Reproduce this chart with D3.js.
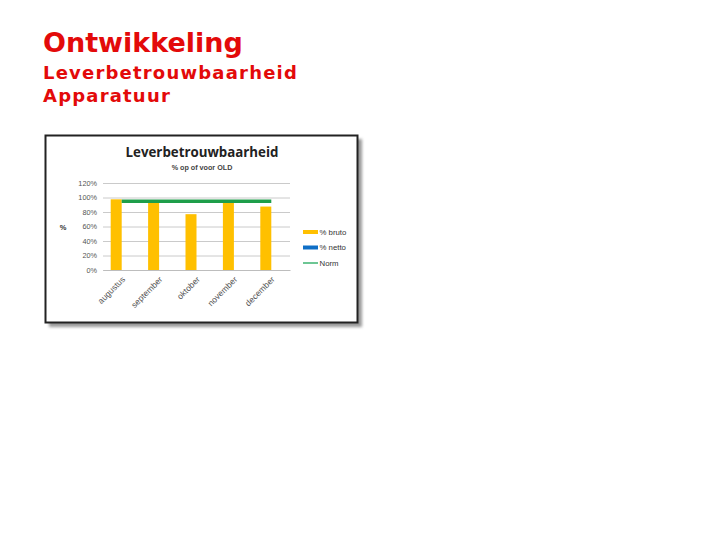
<!DOCTYPE html>
<html>
<head>
<meta charset="utf-8">
<script src="https://cdn.jsdelivr.net/npm/d3@7"></script>
<style>
  body { margin: 0; background: #fff; }
</style>
</head>
<body>
<div id="chart"></div>
<script>
// data
const maanden = ["augustus", "september", "oktober", "november", "december"];
const bruto = [0.975, 0.935, 0.77, 0.93, 0.875];
const netto = [null, null, null, null, null];
const norm = [0.95, 0.95, 0.95, 0.95, 0.95];
const yTicks = [0, 0.2, 0.4, 0.6, 0.8, 1.0, 1.2];
const legendItems = [
  {label: "% bruto", color: "#ffc000", width: 4},
  {label: "% netto", color: "#0f6fc6", width: 4},
  {label: "Norm", color: "#3cb371", width: 1.5}
];

const svg = d3.select("#chart").append("svg")
  .attr("width", 720).attr("height", 540);

// kop
const red = "#e30a0a";
svg.append("text").attr("x", 43).attr("y", 52)
  .attr("font-family", "DejaVu Sans").attr("font-weight", "bold")
  .attr("font-size", 27).attr("fill", red).text("Ontwikkeling");
svg.append("text").attr("x", 43).attr("y", 79)
  .attr("font-family", "DejaVu Sans").attr("font-weight", "bold")
  .attr("font-size", 18).attr("letter-spacing", 1.2).attr("fill", red).text("Leverbetrouwbaarheid");
svg.append("text").attr("x", 43).attr("y", 102)
  .attr("font-family", "DejaVu Sans").attr("font-weight", "bold")
  .attr("font-size", 18).attr("letter-spacing", 1.2).attr("fill", red).text("Apparatuur");

// kader met schaduw
const defs = svg.append("defs");
defs.append("filter").attr("id", "blur")
  .append("feGaussianBlur").attr("stdDeviation", 1.5);
svg.append("rect").attr("x", 49).attr("y", 139).attr("width", 313).attr("height", 188)
  .attr("fill", "#9a9a9a").attr("filter", "url(#blur)");
svg.append("rect").attr("x", 45.5).attr("y", 135.5).attr("width", 312).attr("height", 187)
  .attr("fill", "#fff").attr("stroke", "#222").attr("stroke-width", 2);

const font = "Liberation Sans, Arial, sans-serif";

// titels
svg.append("text").attr("x", 202).attr("y", 157).attr("text-anchor", "middle")
  .attr("font-family", "Open Sans").attr("font-weight", "bold").attr("font-size", 13.3)
  .attr("fill", "#222").text("Leverbetrouwbaarheid");
svg.append("text").attr("x", 202).attr("y", 169.5).attr("text-anchor", "middle")
  .attr("font-family", font).attr("font-weight", "bold").attr("font-size", 7.2)
  .attr("fill", "#444").text("% op of voor OLD");

// schalen
const x = d3.scaleBand().domain(maanden).range([103, 290]).padding(0);
const xs = d3.scaleBand().domain(["bruto", "netto"]).range([0, x.bandwidth()])
  .paddingInner(0).paddingOuter(0.7);
const y = d3.scaleLinear().domain([0, 1.2]).range([270, 183]);

// rasterlijnen
const g = svg.append("g");
g.append("g")
  .attr("transform", "translate(103,0)")
  .call(d3.axisLeft(y).tickValues(yTicks).tickSize(-187).tickFormat(d3.format(".0%")))
  .call(a => a.select(".domain").remove())
  .call(a => a.selectAll(".tick line").attr("stroke", "#bdbdbd").attr("stroke-width", 0.8))
  .call(a => a.selectAll(".tick text").attr("x", -6).attr("fill", "#555")
    .attr("font-family", font).attr("font-size", 7.3));

// x-as
g.append("g")
  .attr("transform", "translate(0,270)")
  .call(d3.axisBottom(x).tickSize(0))
  .call(a => a.select(".domain").attr("stroke", "#bdbdbd"))
  .call(a => a.selectAll(".tick text")
    .attr("font-family", font).attr("font-size", 8.5).attr("fill", "#555")
    .attr("text-anchor", "end").attr("dy", 0).attr("y", 0)
    .attr("transform", "translate(4,10) rotate(-45)"));

// as-titel
svg.append("text").attr("x", 63).attr("y", 230).attr("text-anchor", "middle")
  .attr("font-family", font).attr("font-weight", "bold").attr("font-size", 7.5)
  .attr("fill", "#333").text("%");

// staven
g.selectAll("rect.bruto").data(bruto).join("rect")
  .attr("class", "bruto")
  .attr("x", (d, i) => x(maanden[i]) + xs("bruto"))
  .attr("width", xs.bandwidth())
  .attr("y", d => y(d)).attr("height", d => y(0) - y(d))
  .attr("fill", "#ffc000");
g.selectAll("rect.netto").data(netto.filter(d => d != null)).join("rect")
  .attr("class", "netto")
  .attr("x", (d, i) => x(maanden[i]) + xs("netto"))
  .attr("width", xs.bandwidth())
  .attr("y", d => y(d)).attr("height", d => y(0) - y(d))
  .attr("fill", "#0f6fc6");

// normlijn
const line = d3.line().x((d, i) => x(maanden[i]) + x.bandwidth() / 2).y(d => y(d));
g.append("path").datum(norm)
  .attr("fill", "none").attr("stroke", "#1e9e4a").attr("stroke-width", 3.5)
  .attr("d", line);

// legenda
const lg = svg.append("g").attr("transform", "translate(303,232)");
const li = lg.selectAll("g").data(legendItems).join("g")
  .attr("transform", (d, i) => `translate(0,${i * 15.5})`);
li.append("line").attr("x1", 0).attr("x2", 15).attr("y1", 0).attr("y2", 0)
  .attr("stroke", d => d.color).attr("stroke-width", d => d.width);
li.append("text").attr("x", 16.5).attr("y", 2.8)
  .attr("font-family", font).attr("font-size", 7.8).attr("fill", "#333")
  .text(d => d.label);
</script>
</body>
</html>
